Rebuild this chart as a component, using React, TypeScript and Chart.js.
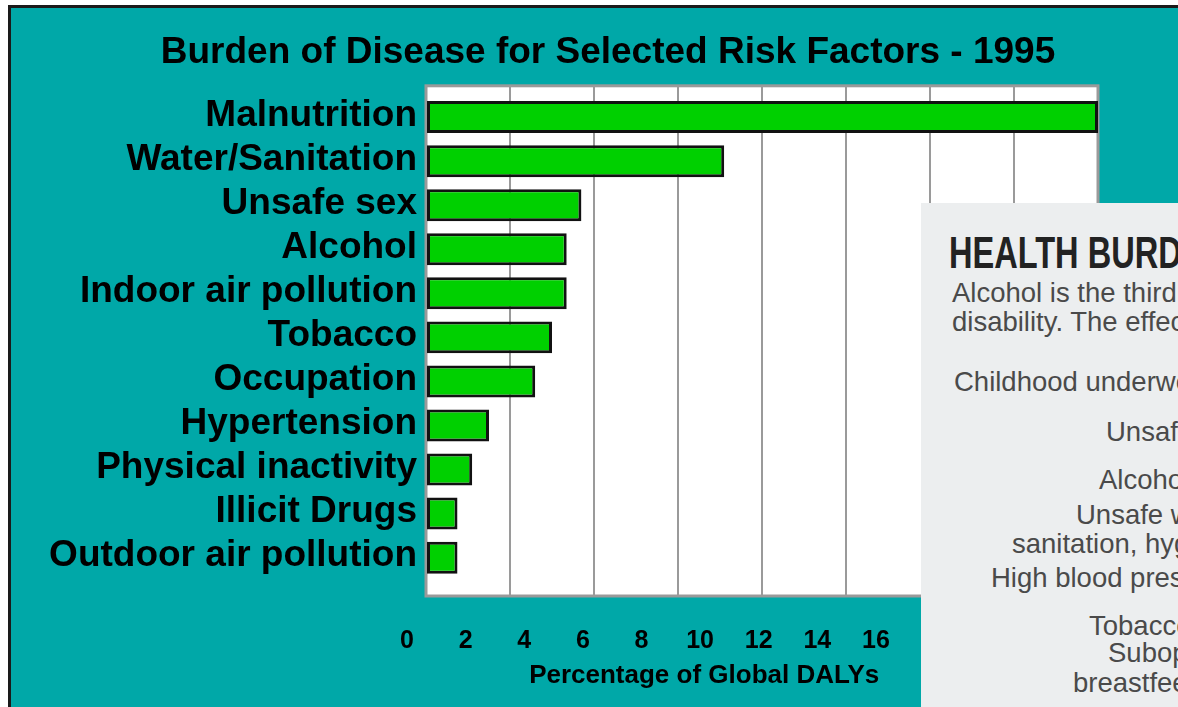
import React, { useEffect, useRef } from 'react';
import { Chart, registerables } from 'chart.js';

Chart.register(...registerables);

// ---------- data ----------
const categories = [
  'Malnutrition',
  'Water/Sanitation',
  'Unsafe sex',
  'Alcohol',
  'Indoor air pollution',
  'Tobacco',
  'Occupation',
  'Hypertension',
  'Physical inactivity',
  'Illicit Drugs',
  'Outdoor air pollution',
];
const dalyPercent = [16.0, 7.1, 3.7, 3.35, 3.35, 3.0, 2.6, 1.5, 1.1, 0.75, 0.75];
const gridTickValues = [0, 2, 4, 6, 8, 10, 12, 14, 16];
const tickLabels = ['0', '2', '4', '6', '8', '10', '12', '14', '16'];
const chartTitle = 'Burden of Disease for Selected Risk Factors - 1995';
const xAxisTitle = 'Percentage of Global DALYs';

// pasted panel text (clipped at the right edge in the picture)
const panelHeading = 'HEALTH BURDEN OF ALCOHOL';
const panelLines = [
  'Alcohol is the third leading risk factor for disease and',
  'disability. The effects of alcohol use are greatest',
  'Childhood underweight',
  'Unsafe sex',
  'Alcohol use',
  'Unsafe water,',
  'sanitation, hygiene',
  'High blood pressure',
  'Tobacco use',
  'Suboptimal',
  'breastfeeding',
];

const FONT = "'Liberation Sans', Arial, Helvetica, sans-serif";

export default function App() {
  const ref = useRef<HTMLCanvasElement>(null);

  useEffect(() => {
    if (!ref.current) return;

    const plotAreaPlugin = {
      id: 'plotArea',
      beforeDraw(chart: any) {
        const { ctx, chartArea: a } = chart;
        ctx.save();
        ctx.fillStyle = '#ffffff';
        ctx.fillRect(a.left, a.top, a.width, a.height);
        ctx.restore();
      },
      beforeDatasetsDraw(chart: any) {
        const { ctx, chartArea: a } = chart;
        ctx.save();
        ctx.strokeStyle = '#9a9a9a';
        ctx.lineWidth = 3;
        ctx.strokeRect(a.left, a.top, a.width, a.height);
        ctx.restore();
      },
    };

    const captionPlugin = {
      id: 'xCaption',
      afterDraw(chart: any) {
        const { ctx, chartArea: a } = chart;
        ctx.save();
        ctx.font = `bold 26px ${FONT}`;
        ctx.fillStyle = '#000';
        ctx.textAlign = 'center';
        ctx.textBaseline = 'middle';
        ctx.fillText(xAxisTitle, a.left + a.width * 0.414, a.bottom + 80);
        ctx.restore();
      },
    };

    const chart = new Chart(ref.current, {
      type: 'bar',
      data: {
        datasets: [
          {
            data: dalyPercent.map((v, i) => ({ x: v, y: i })),
            backgroundColor: '#00d000',
            borderColor: '#111111',
            borderWidth: 3,
            borderSkipped: false,
            categoryPercentage: 1,
            barPercentage: 0.726,
          },
        ],
      },
      options: {
        indexAxis: 'y',
        animation: false,
        responsive: false,
        devicePixelRatio: 1,
        layout: { padding: 0 },
        plugins: {
          legend: { display: false },
          tooltip: { enabled: false },
          title: {
            display: true,
            text: chartTitle,
            color: '#000',
            font: { family: FONT, size: 37, weight: 'bold' },
            padding: { top: 30.2, bottom: 11.2 },
          },
        },
        scales: {
          x: {
            type: 'linear',
            position: 'bottom',
            min: 0,
            max: 16,
            offset: false,
            afterBuildTicks: (s: any) => {
              s.ticks = gridTickValues.map((v) => ({ value: v }));
            },
            ticks: { display: false },
            grid: { color: '#9a9a9a', lineWidth: 2, drawTicks: false },
            border: { display: false },
            afterFit: (s: any) => {
              s.height = 0;
            },
          },
          x2: {
            type: 'linear',
            position: 'bottom',
            min: 0,
            max: 22.93,
            offset: false,
            afterBuildTicks: (s: any) => {
              s.ticks = gridTickValues.map((v) => ({ value: v }));
            },
            ticks: {
              callback: (_v: any, i: number) => tickLabels[i],
              color: '#000',
              font: { family: FONT, size: 25, weight: 'bold' },
              padding: 30,
              labelOffset: -19,
              autoSkip: false,
              maxRotation: 0,
            },
            grid: { display: false, drawTicks: false },
            border: { display: false },
            afterFit: (s: any) => {
              s.height = 111;
            },
          },
          y: {
            type: 'linear',
            position: 'left',
            reverse: true,
            offset: false,
            min: -0.71,
            max: 10.87,
            afterBuildTicks: (s: any) => {
              s.ticks = categories.map((_c, i) => ({ value: i }));
            },
            ticks: {
              callback: (_v: any, i: number) => categories[i],
              color: '#000',
              font: { family: FONT, size: 37, weight: 'bold' },
              padding: 9,
              labelOffset: -1.5,
              autoSkip: false,
            },
            grid: { display: false, drawTicks: false },
            border: { display: false },
            afterFit: (s: any) => {
              s.width = 426;
            },
          },
          yRight: {
            type: 'linear',
            position: 'right',
            display: true,
            ticks: { display: false },
            grid: { display: false, drawTicks: false },
            border: { display: false },
            afterFit: (s: any) => {
              s.width = 118;
            },
          },
        },
      } as any,
      plugins: [plotAreaPlugin, captionPlugin],
    } as any);

    return () => chart.destroy();
  }, []);

  const lineLeft = [31, 31, 33, 185, 178, 155, 91, 70, 168, 187, 152];
  const lineTop = [75.5, 105, 165, 214.5, 262.5, 297.5, 326.5, 361, 408.5, 436, 466];

  return (
    <div style={{ position: 'fixed', left: 0, top: 0, right: 0, bottom: 0, overflow: 'hidden', background: '#ffffff' }}>
      <div
        style={{
          position: 'absolute',
          left: 8,
          top: 5,
          width: 1200,
          height: 720,
          background: '#00a8a8',
          borderLeft: '3px solid #1a1a1a',
          borderTop: '3px solid #1a1a1a',
        }}
      />
      <canvas ref={ref} width={1216} height={707} style={{ position: 'absolute', left: 0, top: 0 }} />
      <div
        style={{
          position: 'absolute',
          left: 921,
          top: 203,
          right: 0,
          bottom: 0,
          background: '#eceeef',
          overflow: 'hidden',
        }}
      >
        <div
          style={{
            position: 'absolute',
            left: 28,
            top: 27.5,
            fontFamily: FONT,
            fontWeight: 'bold',
            fontSize: 44,
            lineHeight: '44px',
            color: '#222',
            whiteSpace: 'nowrap',
            transform: 'scaleX(0.74)',
            transformOrigin: 'left top',
          }}
        >
          {panelHeading}
        </div>
        {panelLines.map((t, i) => (
          <div
            key={i}
            style={{
              position: 'absolute',
              left: lineLeft[i],
              top: lineTop[i],
              fontFamily: FONT,
              fontSize: 27.5,
              lineHeight: '27.5px',
              color: '#4a4a4a',
              whiteSpace: 'nowrap',
            }}
          >
            {t}
          </div>
        ))}
      </div>
    </div>
  );
}
